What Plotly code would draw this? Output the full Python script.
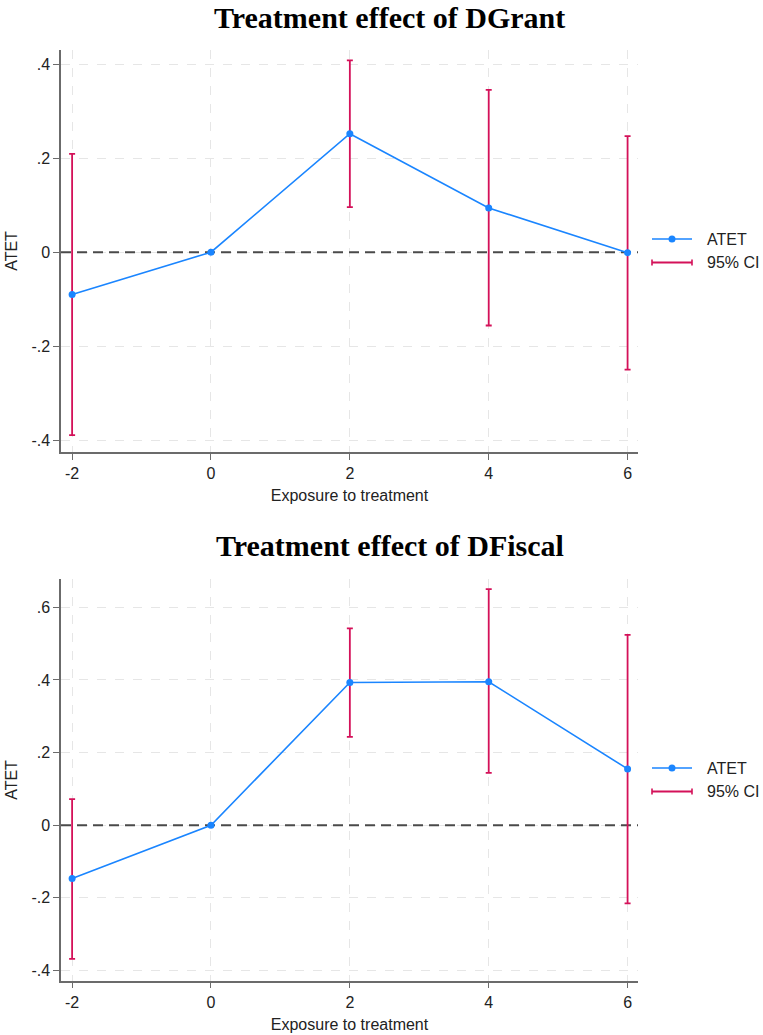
import plotly.graph_objects as go

# ---------------- data ----------------
periods = [-2, 0, 2, 4, 6]

grant_atet = [-0.090, 0.0, 0.252, 0.094, -0.001]
grant_lo = [-0.389, 0.0, 0.096, -0.156, -0.250]
grant_hi = [0.209, 0.0, 0.408, 0.345, 0.247]

fiscal_atet = [-0.147, 0.0, 0.393, 0.395, 0.155]
fiscal_lo = [-0.368, 0.0, 0.243, 0.144, -0.215]
fiscal_hi = [0.072, 0.0, 0.542, 0.650, 0.524]

xticks = [-2, 0, 2, 4, 6]
xlabels = ["-2", "0", "2", "4", "6"]
yticks_top = [-0.4, -0.2, 0.0, 0.2, 0.4]
ylabels_top = ["-.4", "-.2", "0", ".2", ".4"]
yticks_bot = [-0.4, -0.2, 0.0, 0.2, 0.4, 0.6]
ylabels_bot = ["-.4", "-.2", "0", ".2", ".4", ".6"]

titles = ["Treatment effect of DGrant", "Treatment effect of DFiscal"]

# ---------------- style ----------------
W, H = 763, 1035
BLUE = "#1a85ff"
RED = "#d41159"
AXC = "#6b6b6b"
GRID = "#e6e6e6"
SANS = "Liberation Sans, Arial, sans-serif"
SERIF = "Liberation Serif, Times New Roman, serif"
FS = 16
XRANGE = [-2.16, 6.15]

x_dom = [61 / W, 638 / W]
top_px = (50, 452)
bot_px = (579.3, 980.7)


def pdom(px):
    return [1 - px[1] / H, 1 - px[0] / H]


fig = go.Figure()

panels = [
    ("x", "y", grant_atet, grant_lo, grant_hi),
    ("x2", "y2", fiscal_atet, fiscal_lo, fiscal_hi),
]

for xa, ya, atet, lo, hi in panels:
    up = [h - a for h, a in zip(hi, atet)]
    dn = [a - l for a, l in zip(atet, lo)]
    fig.add_trace(go.Scatter(
        x=periods, y=atet, xaxis=xa, yaxis=ya, mode="markers",
        marker=dict(size=1, opacity=0),
        error_y=dict(type="data", array=up, arrayminus=dn, symmetric=False,
                     color=RED, thickness=1.8, width=3),
        showlegend=False, hoverinfo="skip"))
    fig.add_trace(go.Scatter(
        x=periods, y=atet, xaxis=xa, yaxis=ya, mode="lines+markers",
        line=dict(color=BLUE, width=1.6),
        marker=dict(color=BLUE, size=7),
        showlegend=False))

xcommon = dict(
    range=XRANGE, tickvals=xticks, ticktext=xlabels, showgrid=True, gridcolor=GRID,
    griddash="dash", gridwidth=1, showline=True, linecolor=AXC, linewidth=1.5,
    ticks="outside", ticklen=6, tickcolor=AXC, tickwidth=1.3, zeroline=False,
    tickfont=dict(family=SANS, size=FS, color="#222"),
    title=dict(text="Exposure to treatment", font=dict(family=SANS, size=FS, color="#222"),
               standoff=9),
    domain=x_dom,
)
ycommon = dict(
    showgrid=True, gridcolor=GRID, griddash="dash", gridwidth=1,
    showline=True, linecolor=AXC, linewidth=1.5, ticks="outside", ticklen=6,
    tickcolor=AXC, tickwidth=1.3, zeroline=False,
    tickfont=dict(family=SANS, size=FS, color="#222"),
    title=dict(text="ATET", font=dict(family=SANS, size=FS, color="#222"), standoff=10),
)

fig.update_layout(
    width=W, height=H, autosize=False,
    margin=dict(l=0, r=0, t=0, b=0),
    paper_bgcolor="white", plot_bgcolor="white",
    showlegend=False,
    xaxis=dict(**xcommon, anchor="y"),
    yaxis=dict(**ycommon, anchor="x", domain=pdom(top_px), range=[-0.425, 0.430],
               tickvals=yticks_top, ticktext=ylabels_top),
    xaxis2=dict(**xcommon, anchor="y2"),
    yaxis2=dict(**ycommon, anchor="x2", domain=pdom(bot_px), range=[-0.428, 0.677],
                tickvals=yticks_bot, ticktext=ylabels_bot),
)

shapes = []
annotations = []
for i, (ya, px, title_y) in enumerate([("y", top_px, 17), ("y2", bot_px, 545)]):
    xa = "x" if ya == "y" else "x2"
    # dashed reference line at zero (between gridlines and traces)
    shapes.append(dict(type="line", xref=xa, yref=ya, x0=XRANGE[0], x1=XRANGE[1], y0=0, y1=0,
                       line=dict(color="#4a4a4a", width=2, dash="10px,6px"), layer="between"))
    # title
    annotations.append(dict(text=f"<b>{titles[i]}</b>", xref="paper", yref="paper",
                            x=389.5 / W, y=1 - title_y / H, xanchor="center", yanchor="middle",
                            showarrow=False, font=dict(family=SERIF, size=30, color="black")))
    # legend (manual)
    mid = (px[0] + px[1]) / 2
    y1 = mid - 12
    y2 = mid + 11.5
    lx0, lx1 = 652 / W, 692 / W
    shapes.append(dict(type="line", xref="paper", yref="paper", x0=lx0, x1=lx1,
                       y0=1 - y1 / H, y1=1 - y1 / H, line=dict(color=BLUE, width=1.6)))
    shapes.append(dict(type="circle", xref="paper", yref="paper",
                       x0=668.5 / W, x1=675.5 / W,
                       y0=1 - (y1 + 3.5) / H, y1=1 - (y1 - 3.5) / H,
                       fillcolor=BLUE, line=dict(color=BLUE, width=0)))
    shapes.append(dict(type="line", xref="paper", yref="paper", x0=lx0, x1=lx1,
                       y0=1 - y2 / H, y1=1 - y2 / H, line=dict(color=RED, width=1.8)))
    for cx in (lx0, lx1):
        shapes.append(dict(type="line", xref="paper", yref="paper", x0=cx, x1=cx,
                           y0=1 - (y2 - 3) / H, y1=1 - (y2 + 3) / H,
                           line=dict(color=RED, width=1.6)))
    annotations.append(dict(text="ATET", xref="paper", yref="paper", x=705 / W, y=1 - y1 / H,
                            xanchor="left", yanchor="middle", showarrow=False,
                            font=dict(family=SANS, size=FS, color="#222")))
    annotations.append(dict(text="95% CI", xref="paper", yref="paper", x=705 / W, y=1 - y2 / H,
                            xanchor="left", yanchor="middle", showarrow=False,
                            font=dict(family=SANS, size=FS, color="#222")))

fig.update_layout(shapes=shapes, annotations=annotations)

fig.write_html("out.html")
